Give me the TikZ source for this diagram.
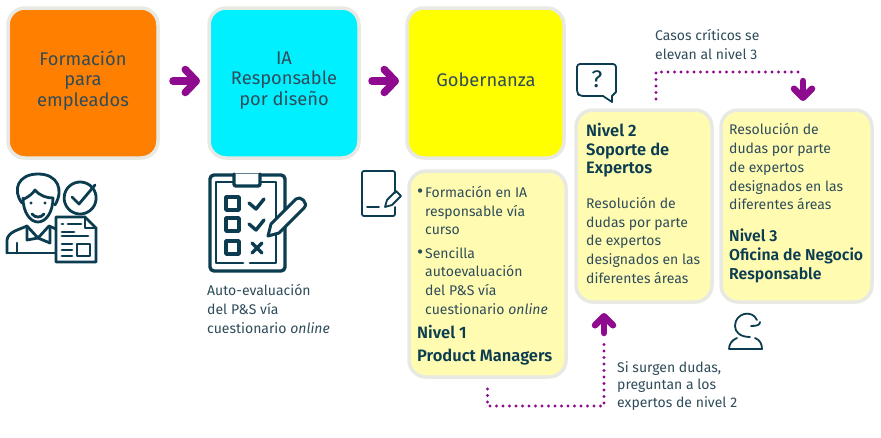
\documentclass[tikz,border=0pt]{standalone}
\usepackage{fontspec}
\setmainfont{Fira Sans}[ItalicFont={Fira Sans Italic},BoldFont={Fira Sans SemiBold}]
\newfontfamily\lightf{Fira Sans}[ItalicFont={Fira Sans Italic}]
\usetikzlibrary{arrows.meta}
\definecolor{ink}{HTML}{0B3C50}
\definecolor{txt}{HTML}{2F4C5A}
\definecolor{purp}{HTML}{8E0A8E}
\definecolor{edge}{HTML}{E9E9E3}
\definecolor{pale}{HTML}{FFFCB2}
\definecolor{cardorange}{HTML}{FF7F00}
\definecolor{cardcyan}{HTML}{00F0FF}
\definecolor{cardyellow}{HTML}{FFFF00}
\newcommand{\bulletmark}{\llap{{\fontsize{19}{19}\selectfont •}\hspace{2pt}}}
\tikzset{
  x=1pt,y=-1pt,
  card/.style={draw=edge,line width=3.5pt,outer sep=0pt,rounded corners=17pt,inner sep=0pt,anchor=north west},
  head/.style={font=\lightf\fontsize{18.3}{20.5}\selectfont,align=center,text=txt},
  body/.style={font=\lightf\fontsize{14}{18.7}\selectfont,align=left,anchor=north west,inner sep=0pt,text=txt},
  lev/.style={font=\bfseries\fontsize{16.5}{18.3}\selectfont,align=left,anchor=north west,inner sep=0pt,text=ink},
  bigarrow/.style={draw=purp,line width=7.5pt,line cap=round,-{Straight Barb[length=11pt,width=23pt,line width=7.5pt,round]}},
  midarrow/.style={draw=purp,line width=6.5pt,line cap=round,-{Straight Barb[length=9pt,width=18pt,line width=6.5pt,round]}},
  dots/.style={draw=purp,line width=3.2pt,line cap=round,dash pattern=on 0pt off 6.5pt},
  icon/.style={draw=ink,line width=2.8pt,line join=round,line cap=round},
  thin icon/.style={draw=ink,line width=1.8pt,line join=round,line cap=round},
}
\begin{document}
\begin{tikzpicture}
\useasboundingbox (0,0) rectangle (881,437);
\fill[white] (0,0) rectangle (881,437);
% cards
\node[card,fill=cardorange,minimum width=150pt,minimum height=150pt] (form) at (8,8) {};
\node[card,fill=cardcyan,minimum width=150pt,minimum height=150pt] (resp) at (209,8) {};
\node[card,fill=cardyellow,minimum width=157pt,minimum height=150pt] (gob) at (407,8) {};
\node[card,fill=pale,minimum width=157pt,minimum height=206pt] (niv1) at (409,171) {};
\node[card,fill=pale,minimum width=136pt,minimum height=192pt] (niv2) at (576,110) {};
\node[card,fill=pale,minimum width=151pt,minimum height=192pt] (niv3) at (721,110) {};
% card headings
\node[head] at (83,80.5) {Formación\\para\\empleados};
\node[head] at (284,80.5) {IA\\Responsable\\por diseño};
\node[head] at (486,80) {Gobernanza};
% flow arrows
\coordinate (a1) at (173,81);
\coordinate (a2) at (200,81);
\coordinate (b1) at (372,81);
\coordinate (b2) at (399,81);
\draw[bigarrow] (a1) -- (a2);
\draw[bigarrow] (b1) -- (b2);
% dotted connectors
\coordinate (d1) at (487.5,389);
\coordinate (d2) at (604,342);
\draw[dots] (d1) |- (604,406) -- (d2);
\coordinate (u0) at (604,333);
\coordinate (u1) at (604,313);
\draw[midarrow] (u0) -- (u1);
\coordinate (e1) at (656,99);
\coordinate (e2) at (803,72);
\draw[dots] (e1) |- (e2);
\coordinate (v0) at (803,81);
\coordinate (v1) at (803,101);
\draw[midarrow] (v0) -- (v1);
% texts
\node[body] at (207,284.5) {Auto-evaluación\\del P\&S vía\\cuestionario \textit{online}};
\node[body] at (425,186) {\bulletmark Formación en IA\\responsable vía\\curso};
\node[body] at (425,247) {\bulletmark Sencilla\\autoevaluación\\del P\&S vía\\cuestionario \textit{online}};
\node[lev,font=\bfseries\fontsize{16.5}{23}\selectfont] at (417,325.5) {Nivel 1\\Product Managers};
\node[lev] at (586,123.5) {Nivel 2\\Soporte de\\Expertos};
\node[body] at (586,197) {Resolución de\\dudas por parte\\de expertos\\designados en las\\diferentes áreas};
\node[body] at (729,123.5) {Resolución de\\dudas por parte\\de expertos\\designados en las\\diferentes áreas};
\node[lev,font=\bfseries\fontsize{15.8}{19}\selectfont] at (729,229) {Nivel 3\\Oficina de Negocio\\Responsable};
\node[body] at (655,29) {Casos críticos se\\elevan al nivel 3};
\node[body,font=\lightf\fontsize{14}{17.7}\selectfont] at (617,361) {Si surgen dudas,\\preguntan a los\\expertos de nivel 2};
% person icon
\begin{scope}[icon]
\draw (22,203) .. controls (12,190) and (18,174) .. (38,174) .. controls (58,174) and (64,190) .. (55,205);
\draw (24,199) .. controls (30,196) and (33,193) .. (35,190) .. controls (40,196) and (47,198) .. (53,198);
\draw (23,198) .. controls (23,212) and (30,222) .. (38,222) .. controls (46,222) and (53,212) .. (53,198);
\draw (32,214) .. controls (35,218) and (41,218) .. (44,214);
\fill[ink] (31,203) circle (1.6) (45,203) circle (1.6);
\draw (7,253) -- (7,240) .. controls (8,232) and (18,230) .. (27,226) -- (38,238) -- (49,226) -- (56,229);
\draw (27,226) -- (27,240) -- (38,238) -- (50,243) -- (50,228);
\draw (17,253) -- (17,243);
\draw (7,253) -- (56,253);
\draw (94,190) arc (-30:330:16);
\draw (72,197) -- (79,204) -- (95,185);
\draw[fill=white] (56,217) -- (85,217) -- (96,228) -- (96,262) -- (56,262) -- cycle;
\draw (85,217) -- (85,228) -- (96,228);
\draw (62,224) -- (63,224) (68,224) -- (81,224);
\draw (62,232) -- (74,232);
\draw (62,236) -- (88,236) (62,236);
\draw (62,244) -- (72,244) (62,250) -- (72,250) (62,256) -- (72,256);
\draw (77,244) rectangle (90,256);
\end{scope}
% clipboard icon
\begin{scope}[icon]
\draw[line width=3.4pt,rounded corners=4pt] (210,175) rectangle (285,271);
\draw (233,182) -- (216,182) -- (216,263) -- (243,263) (250,263) -- (276,263) -- (276,182) -- (261,182);
\draw[fill=white,line width=3.4pt,rounded corners=2pt] (234,174) -- (234,186) -- (260,186) -- (260,174);
\draw[line width=3.4pt] (226,197) rectangle (239,210) (226,218) rectangle (239,231) (226,241) rectangle (239,254);
\draw[line width=3.4pt] (249,203) -- (256,209) -- (264,199);
\draw[line width=3.4pt] (249,224) -- (256,230) -- (264,220);
\draw[line width=3.4pt] (252,243) -- (262,253) (262,243) -- (252,253);
\draw[fill=white,line width=3pt] (268,236) -- (271,224) -- (296,199) .. controls (300,195) and (309,203) .. (304,208) -- (279,233) -- cycle;
\end{scope}
% question bubble
\draw[thin icon,rounded corners=3pt] (603,96) -- (580,96) -- (577,93) -- (577,64) -- (616,64) -- (616,92) ;
\draw[thin icon] (603,96) -- (612,102) -- (612,96) -- (616,92);
\node[inner sep=0pt,text=ink,font=\lightf\fontsize{24}{24}\selectfont] at (597,79.5) {?};
% note icon
\draw[thin icon,rounded corners=2pt] (395,193) -- (395,171) -- (362,171) -- (362,216) -- (395,216) -- (395,207);
\draw[thin icon] (367,207) -- (379,207);
\draw[thin icon] (385,207) -- (387,200) -- (396,191) -- (401,196) -- (392,205) -- cycle;
% user icon
\draw[thin icon] (757,320) .. controls (752,309) and (735,313) .. (735,326) .. controls (735,332) and (740,337) .. (750,337);
\draw[thin icon] (760,322) .. controls (760,325) and (757,326) .. (751,326);
\draw[thin icon] (729,349) .. controls (729,344) and (732,340) .. (737,338) (755,338) .. controls (760,340) and (762,344) .. (762,349) -- (729,349);
\end{tikzpicture}
\end{document}
